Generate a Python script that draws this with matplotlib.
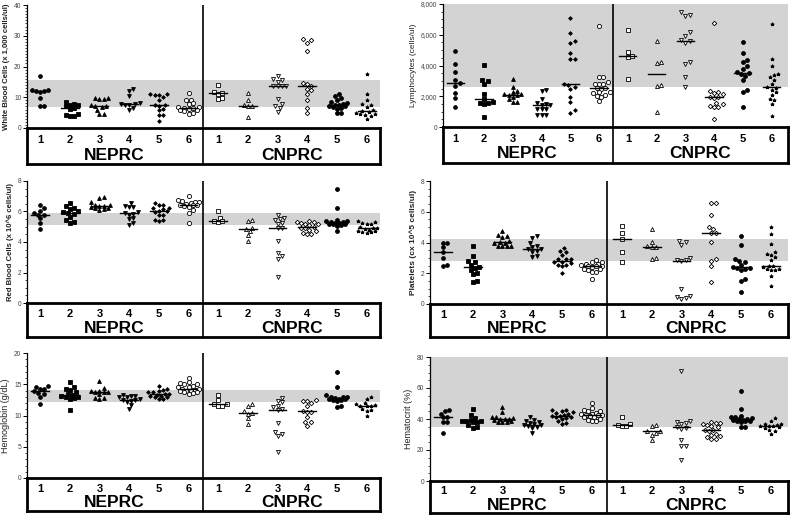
import numpy as np
import matplotlib
matplotlib.use('Agg')
import matplotlib.pyplot as plt
from matplotlib.ticker import MultipleLocator, StrMethodFormatter

plt.rcParams['font.family'] = ['Liberation Sans', 'DejaVu Sans']

W, H = 790, 517

group_labels = ['1', '2', '3', '4', '5', '6']
center_names = ['NEPRC', 'CNPRC']

# values, one list per group 1..6
wbc_neprc = [
    [17, 12.3, 12.0, 12.0, 12.3, 11.8, 9.6, 7.0, 7.1],
    [8.6, 7.8, 7.5, 7.6, 7.0, 6.4, 6.2, 4.7, 4.3, 3.9, 3.8],
    [9.7, 9.6, 9.5, 9.4, 7.5, 7.3, 7.0, 6.8, 5.8, 4.7, 4.6],
    [12.7, 12.0, 10.3, 8.0, 7.9, 7.7, 7.6, 7.4, 6.4, 5.7],
    [11.1, 11.0, 10.8, 10.6, 10.1, 9.2, 7.6, 7.4, 7.3, 6.3, 5.8, 4.3, 4.1, 2.3],
    [11.3, 9.2, 9.0, 8.0, 7.8, 6.9, 6.7, 6.6, 6.5, 6.3, 6.0, 5.8, 5.5, 5.0, 4.7],
]
wbc_cnprc = [
    [13.9, 11.7, 11.4, 11.2, 9.9, 9.3],
    [11.4, 9.0, 7.4, 7.2, 7.0, 3.6],
    [17.0, 15.8, 15.5, 15.0, 13.8, 13.6, 13.6, 13.5, 9.3, 7.7, 7.1, 6.5, 5.3],
    [28.8, 28.6, 27.7, 25.1, 14.5, 14.4, 13.7, 12.8, 12.3, 11.2, 9.2, 6.6, 4.9],
    [11.1, 10.3, 9.6, 9.0, 8.4, 8.0, 7.8, 7.6, 7.5, 7.3, 7.0, 6.8, 6.5, 6.3, 5.0, 4.9],
    [17.7, 11.2, 9.0, 7.7, 7.5, 6.8, 5.8, 5.4, 5.2, 4.8, 4.6, 4.5, 4.3, 4.0, 3.0],
]

lym_neprc = [
    [4950, 4100, 3550, 3050, 2850, 2650, 2200, 1900, 1300],
    [4050, 3050, 3000, 2800, 2150, 1850, 1600, 1550, 1550, 1500, 650],
    [3150, 2600, 2350, 2250, 2150, 2120, 2100, 2050, 1950, 1800, 1650, 1600],
    [2400, 2350, 1850, 1550, 1500, 1430, 1400, 1200, 1200, 1150, 800, 750, 750],
    [7100, 6100, 5600, 5450, 4800, 4450, 4400, 2800, 2700, 2600, 2450, 1950, 1650, 1100, 900],
    [6550, 3250, 3250, 2950, 2800, 2800, 2800, 2550, 2550, 2500, 2300, 2250, 2200, 2100, 2000, 1950, 1700],
]
lym_cnprc = [
    [6300, 4900, 4600, 4550, 3100],
    [5600, 4250, 4150, 2700, 2650, 950],
    [7450, 7300, 7250, 6150, 5950, 5650, 5600, 5450, 4250, 4100, 3250, 2600],
    [6750, 2350, 2250, 2200, 2150, 1950, 1950, 1900, 1550, 1500, 1350, 1300, 1300, 550],
    [5550, 4800, 4350, 4250, 4000, 3800, 3550, 3500, 3450, 3300, 3050, 2400, 2300, 1300],
    [6700, 4450, 3950, 3450, 3400, 3250, 3050, 2800, 2600, 2550, 2400, 2250, 2050, 1800, 1750, 1500, 700],
]

rbc_neprc = [
    [6.45, 6.2, 6.05, 5.9, 5.8, 5.75, 5.55, 5.25, 4.85],
    [6.55, 6.35, 6.2, 6.15, 6.0, 5.95, 5.9, 5.85, 5.65, 5.45, 5.3, 5.25],
    [6.95, 6.9, 6.6, 6.45, 6.4, 6.38, 6.35, 6.3, 6.2, 6.2, 6.15, 6.1],
    [6.55, 6.35, 6.3, 6.3, 5.95, 5.9, 5.85, 5.8, 5.55, 5.5, 5.25, 5.1],
    [6.55, 6.45, 6.4, 6.25, 6.2, 6.15, 6.05, 6.0, 5.95, 5.8, 5.75, 5.45, 5.45, 5.4],
    [7.0, 6.75, 6.7, 6.65, 6.6, 6.55, 6.5, 6.45, 6.4, 6.4, 6.35, 6.3, 6.1, 5.9, 5.25],
]
rbc_cnprc = [
    [6.05, 5.6, 5.37, 5.35, 5.33],
    [5.45, 5.35, 4.95, 4.85, 4.7, 4.45, 4.05],
    [5.75, 5.6, 5.5, 5.45, 5.25, 5.2, 4.95, 4.9, 4.05, 3.25, 3.05, 2.9, 1.7],
    [5.4, 5.3, 5.3, 5.25, 5.2, 5.15, 5.1, 5.0, 4.95, 4.9, 4.8, 4.75, 4.6, 4.55, 4.55],
    [7.5, 6.2, 5.45, 5.4, 5.35, 5.3, 5.3, 5.25, 5.25, 5.2, 5.2, 5.15, 5.1, 5.05, 4.7],
    [5.35, 5.3, 5.25, 5.2, 5.15, 5.0, 4.95, 4.9, 4.85, 4.8, 4.75, 4.7, 4.65, 4.65, 4.6],
]

plt_neprc = [
    [4.0, 4.0, 3.7, 3.35, 3.0, 2.55, 2.5],
    [3.75, 3.1, 2.8, 2.75, 2.55, 2.4, 2.35, 2.2, 2.0, 1.95, 1.5, 1.45],
    [4.75, 4.5, 4.4, 4.35, 4.1, 4.05, 4.0, 3.95, 3.8, 3.78, 3.75, 3.75],
    [4.4, 4.3, 3.95, 3.75, 3.7, 3.6, 3.55, 3.45, 3.4, 3.1, 3.05],
    [3.65, 3.45, 3.4, 3.2, 2.95, 2.9, 2.9, 2.75, 2.7, 2.65, 2.55, 2.55, 2.5, 2.0],
    [2.85, 2.75, 2.7, 2.6, 2.6, 2.55, 2.5, 2.45, 2.45, 2.4, 2.3, 2.25, 2.2, 2.1, 2.05, 1.6],
]
plt_cnprc = [
    [5.1, 4.6, 4.25, 3.4, 2.7],
    [4.9, 4.05, 3.75, 3.7, 3.7, 3.0, 2.9],
    [4.1, 4.05, 3.85, 3.0, 2.85, 2.85, 2.8, 1.0, 0.5, 0.45, 0.4, 0.3],
    [6.55, 6.55, 5.8, 5.0, 4.85, 4.6, 4.6, 4.05, 2.9, 2.8, 2.5, 1.4],
    [4.45, 3.85, 2.9, 2.8, 2.75, 2.55, 2.4, 2.35, 2.35, 2.3, 2.2, 1.6, 1.5, 0.75],
    [5.0, 4.55, 3.9, 3.4, 3.25, 3.2, 3.05, 2.85, 2.5, 2.45, 2.4, 2.3, 2.25, 2.2, 2.2, 1.8, 1.2],
]

hgb_neprc = [
    [14.8, 14.6, 14.3, 14.2, 13.9, 13.6, 13.5, 13.0, 11.9],
    [15.3, 14.6, 14.2, 14.1, 13.8, 13.5, 13.3, 13.2, 13.0, 12.9, 12.8, 12.7, 10.9],
    [15.6, 14.4, 14.0, 13.9, 13.8, 13.7, 13.7, 13.4, 12.8, 12.8, 12.7],
    [13.3, 13.2, 13.2, 13.0, 12.9, 12.6, 12.5, 12.5, 12.4, 12.2, 11.7, 11.1],
    [14.7, 14.2, 14.1, 14.0, 13.8, 13.7, 13.5, 13.4, 13.3, 13.2, 13.1, 13.0, 12.9, 12.7, 12.6],
    [16.0, 15.3, 15.2, 15.1, 15.0, 14.7, 14.6, 14.5, 14.3, 14.2, 14.1, 14.0, 14.0, 13.9, 13.8, 13.7, 13.6, 13.5],
]
hgb_cnprc = [
    [13.3, 12.5, 11.9, 11.8, 11.6, 11.5],
    [11.9, 11.6, 10.7, 10.4, 10.3, 9.6, 8.7],
    [12.8, 12.3, 12.1, 11.6, 11.4, 11.0, 10.9, 8.8, 7.4, 7.1, 6.8, 4.2],
    [12.5, 12.4, 12.3, 12.0, 11.5, 10.7, 10.6, 10.5, 9.7, 9.0, 8.9, 8.4],
    [17.0, 14.5, 13.3, 13.0, 12.9, 12.9, 12.8, 12.7, 12.7, 12.6, 12.5, 12.5, 12.4, 11.5, 11.3],
    [12.9, 12.6, 12.0, 11.8, 11.7, 11.6, 11.6, 11.5, 11.0, 10.9, 10.8, 10.0],
]

hct_neprc = [
    [45.6, 45.2, 43.5, 41.2, 41.0, 38.2, 37.8, 31.2],
    [46.7, 42.8, 40.6, 39.5, 39.0, 38.8, 38.5, 38.2, 38.0, 36.0, 35.0, 34.5],
    [48.0, 44.5, 41.5, 41.0, 40.5, 40.2, 40.0, 39.8, 39.2, 38.5, 38.2, 38.0, 37.8],
    [41.0, 39.5, 39.0, 38.0, 37.5, 36.5, 36.3, 36.0, 35.8, 35.0, 34.5, 31.2],
    [46.0, 45.5, 45.0, 44.5, 44.0, 43.0, 42.5, 42.0, 41.8, 41.5, 41.0, 40.5, 40.0, 38.5, 37.5, 37.0],
    [50.5, 47.3, 45.5, 45.2, 45.0, 44.0, 43.5, 43.2, 42.8, 42.5, 42.3, 42.0, 41.5, 41.0, 40.0, 39.5, 39.0, 38.8],
]
hct_cnprc = [
    [41.0, 37.0, 36.0, 35.6, 35.5],
    [36.2, 35.5, 32.5, 32.0, 31.0, 29.8, 26.2],
    [70.8, 38.5, 37.8, 37.5, 37.0, 34.8, 34.5, 33.8, 26.2, 22.8, 22.4, 13.3],
    [37.8, 37.5, 37.2, 37.0, 36.0, 35.5, 34.8, 33.0, 32.6, 32.4, 30.5, 30.0, 29.0, 28.5, 27.3, 27.0],
    [57.8, 46.5, 42.0, 41.5, 41.0, 40.5, 40.0, 39.8, 39.5, 39.3, 39.0, 38.8, 38.5, 38.2, 35.0, 34.8],
    [40.5, 38.5, 37.0, 36.5, 36.0, 35.8, 35.6, 35.2, 34.8, 34.5, 33.0, 32.5, 30.5],
]

# reference ranges (grey band)
wbc_range = (6.8, 15.5)
lym_range = (2600, 8000)
rbc_range = (5.12, 5.92)
plt_range = (2.8, 4.24)
hgb_range = (12.2, 14.05)
hct_range = (35, 80)

# marker, filled, size for groups N1..N6, C1..C6
styles = [('o', True, 2.7), ('s', True, 2.5), ('^', True, 2.8), ('v', True, 2.8),
          ('D', True, 1.9), ('o', False, 3.0), ('s', False, 2.8), ('^', False, 2.9),
          ('v', False, 2.9), ('D', False, 2.3), ('o', True, 2.8), ('*', True, 2.6)]


def rect(l, r, t, b):
    return [l / W, 1 - b / H, (r - l) / W, (b - t) / H]


def swarm(vals, px_y, px_x, d=4.2, maxw=0.42):
    # spread close values sideways, kept within +-maxw of the group centre
    vals = np.asarray(vals, float)
    xs = np.zeros(len(vals))
    placed = []
    lim = maxw * px_x
    cands = [0.0]
    k = 1
    while k * 0.5 * d <= lim:
        cands += [k * 0.5 * d, -k * 0.5 * d]
        k += 1
    for i in np.argsort(vals):
        y = vals[i] * px_y
        best, bestd = 0.0, -1
        for c in cands:
            md = min([np.hypot(c - px, y - py) for px, py in placed] or [99])
            if md >= d:
                best = c
                break
            if md > bestd:
                best, bestd = c, md
        placed.append((best, y))
        xs[i] = best / px_x
    return xs


def panel(fig, datar, boxr, neprc, cnprc, ymax, major, minor, band,
          ylabel, lsize, lweight, xlim, fmt=None):
    ax = fig.add_axes(rect(*datar))
    ax.set_xlim(*xlim)
    ax.set_ylim(0, ymax)
    ax.axhspan(band[0], band[1], color='#d3d3d3', lw=0, zorder=0)
    ax.axvline(6.5, color='black', lw=1.2, zorder=1)
    px_y = (datar[3] - datar[2]) / ymax
    px_x = (datar[1] - datar[0]) / (xlim[1] - xlim[0])
    groups = list(neprc) + list(cnprc)
    for i, vals in enumerate(groups):
        xpos = i + 1
        m, filled, ms = styles[i]
        xs = swarm(vals, px_y, px_x)
        ax.plot(xpos + xs, vals, linestyle='none', marker=m, ms=ms,
                mfc='black' if filled else 'white', mec='black', mew=0.6, zorder=3)
        med = np.median(vals)
        ax.plot([xpos - 0.3, xpos + 0.3], [med, med], color='black', lw=1.0, zorder=4)
    for s in ['top', 'right', 'bottom']:
        ax.spines[s].set_visible(False)
    ax.spines['left'].set_linewidth(0.9)
    ax.set_xticks([])
    ax.yaxis.set_major_locator(MultipleLocator(major))
    ax.yaxis.set_minor_locator(MultipleLocator(minor))
    if fmt:
        ax.yaxis.set_major_formatter(StrMethodFormatter(fmt))
    ax.tick_params(axis='y', which='major', length=3, width=0.7, labelsize=4.8,
                   labelcolor='#444444', pad=1)
    ax.tick_params(axis='y', which='minor', length=1.5, width=0.5)
    ax.set_ylabel(ylabel, fontsize=lsize, fontweight=lweight, color='#222222',
                  labelpad=3)

    bx = fig.add_axes(rect(*boxr))
    bx.set_xlim(*xlim)
    bx.set_ylim(0, 1)
    bx.set_xticks([])
    bx.set_yticks([])
    for s in bx.spines.values():
        s.set_linewidth(2.0)
    bx.axvline(6.5, color='black', lw=1.2)
    for i in range(12):
        bx.text(i + 1, 0.68, group_labels[i % 6], ha='center', va='center',
                fontsize=8, fontweight='bold')
    bx.text(3.5, 0.25, center_names[0], ha='center', va='center',
            fontsize=12.5, fontweight='bold')
    bx.text(9.5, 0.25, center_names[1], ha='center', va='center',
            fontsize=12.5, fontweight='bold')
    return ax


fig = plt.figure(figsize=(7.9, 5.17), dpi=100)

left_x = (0.56, 12.45)
right_x = (0.57, 12.57)

panel(fig, (27, 380, 5, 128), (27, 380, 128, 164), wbc_neprc, wbc_cnprc,
      40, 10, 1, wbc_range, 'White Blood Cells (x 1,000 cells/ul)', 5.6, 'bold', left_x)
panel(fig, (443, 788, 4, 127), (443, 788, 127, 163), lym_neprc, lym_cnprc,
      8000, 2000, 500, lym_range, 'Lymphocytes (cells/ul)', 6, 'normal', right_x,
      fmt='{x:,.0f}')
panel(fig, (27, 380, 181, 303), (27, 380, 303, 337), rbc_neprc, rbc_cnprc,
      8, 2, 0.5, rbc_range, 'Red Blood Cells (x 10^6 cells/ul)', 5.6, 'bold', left_x)
panel(fig, (430, 788, 181, 304), (430, 788, 304, 337), plt_neprc, plt_cnprc,
      8, 2, 0.5, plt_range, 'Platelets (cx 10^5 cells/ul)', 6, 'bold', right_x)
panel(fig, (27, 380, 353, 478), (27, 380, 478, 511), hgb_neprc, hgb_cnprc,
      20, 5, 1, hgb_range, 'Hemoglobin (g/dL)', 6.5, 'normal', left_x)
panel(fig, (430, 788, 357, 481), (430, 788, 481, 513), hct_neprc, hct_cnprc,
      80, 20, 5, hct_range, 'Hematocrit (%)', 6.5, 'normal', right_x)

fig.savefig('out.png', dpi=100)
